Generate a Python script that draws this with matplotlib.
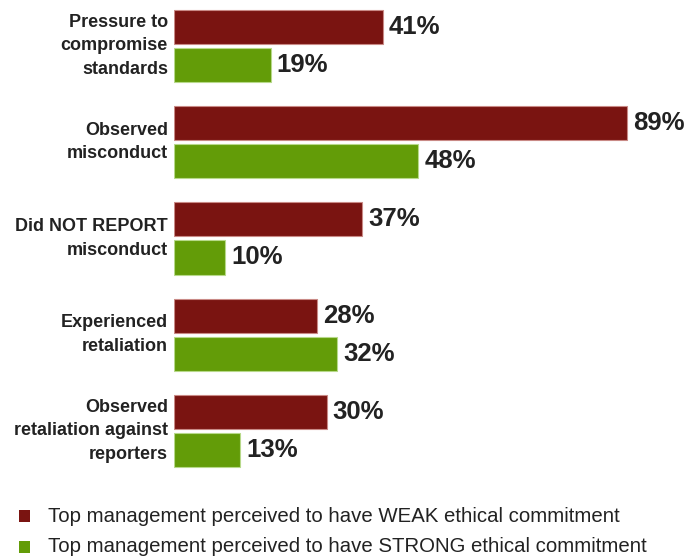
import matplotlib
matplotlib.use("Agg")
import matplotlib.pyplot as plt
from matplotlib.patches import Rectangle
import numpy as np

categories = [
    "Pressure to\ncompromise\nstandards",
    "Observed\nmisconduct",
    "Did NOT REPORT\nmisconduct",
    "Experienced\nretaliation",
    "Observed\nretaliation against\nreporters",
]
weak = [41, 89, 37, 28, 30]
strong = [19, 48, 10, 32, 13]
series_labels = [
    "Top management perceived to have WEAK ethical commitment",
    "Top management perceived to have STRONG ethical commitment",
]

RED = "#7a1411"
GREEN = "#639c08"
FONT = ["Liberation Sans", "DejaVu Sans"]
W, H = 699, 559

fig = plt.figure(figsize=(W / 100, H / 100), dpi=100)
ax = fig.add_axes([174 / W, 1 - 479 / H, (690 - 174) / W, 479 / H])

y = np.arange(len(categories))
off, h = 0.198, 0.354
b1 = ax.barh(y - off, weak, height=h, color=RED, edgecolor="#c98a86", lw=0.8)
b2 = ax.barh(y + off, strong, height=h, color=GREEN, edgecolor="#b7d98a", lw=0.8)

for bars, vals in ((b1, weak), (b2, strong)):
    for r, v in zip(bars, vals):
        ax.text(v + 1.2, r.get_y() + r.get_height() / 2, f"{v}%", va="center", ha="left",
                fontsize=18.5, fontweight="bold", family=FONT, color="#222222")

for yi, c in zip(y, categories):
    ax.text(-1.2, yi, c, ha="right", va="center", fontsize=13, fontweight="bold",
            family=FONT, color="#222222", linespacing=1.5)

ax.set_xlim(0, (690 - 174) / 5.09)
ax.set_ylim(4.5, -0.478)
ax.axis("off")

# legend drawn by hand: small square swatch + text per series
for i, (lab, col) in enumerate(zip(series_labels, (RED, GREEN))):
    yc = 516 + 31 * i
    fig.add_artist(Rectangle((19 / W, 1 - (yc + 6) / H), 11 / W, 12 / H,
                             transform=fig.transFigure, facecolor=col, edgecolor="none"))
    fig.text(48 / W, 1 - yc / H, lab, ha="left", va="center", fontsize=14.7,
             family=FONT, color="#222222")

fig.savefig("out.png", dpi=100)
